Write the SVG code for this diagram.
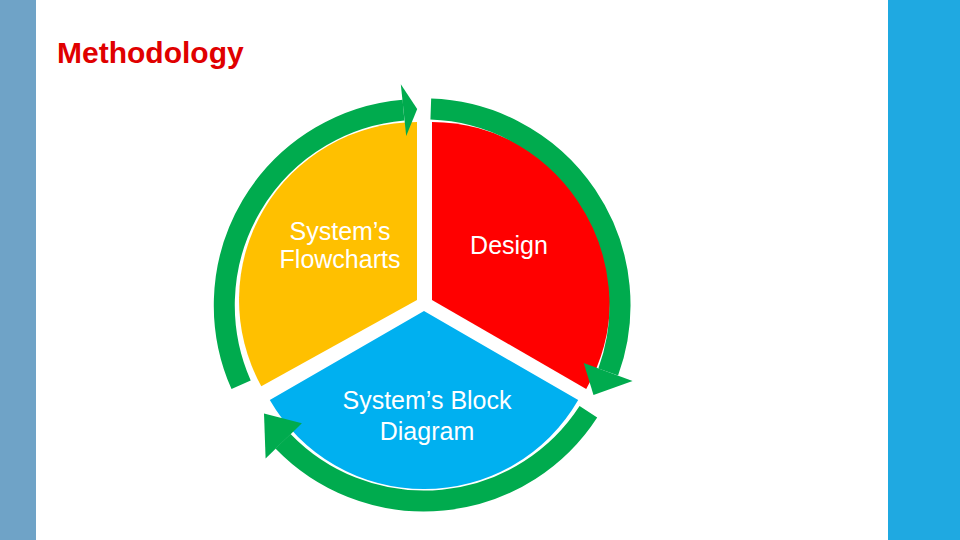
<svg xmlns="http://www.w3.org/2000/svg" width="960" height="540" viewBox="0 0 960 540">
<style>
.lbl{font-family:"Liberation Sans",Arial,sans-serif;font-size:25px;fill:#fff;text-anchor:middle}
.ring{fill:none;stroke:#00ab4e;stroke-width:21}
.head{fill:#00ab4e}
</style>
<rect width="960" height="540" fill="#fff"/>
<rect x="0" y="0" width="36" height="540" fill="#6fa3c7"/>
<rect x="888" y="0" width="72" height="540" fill="#1fa9e1"/>
<text x="57" y="63" font-family="Liberation Sans,Arial,sans-serif" font-weight="bold" font-size="30" fill="#e00000">Methodology</text>
<g id="flowcharts">
<path d="M417,300 L417,122 A178,178 0 0 0 261.3,386.2 Z" fill="#ffc000"/>
<text class="lbl" x="340" y="240">System’s</text>
<text class="lbl" x="340" y="268">Flowcharts</text>
</g>
<g id="design">
<path d="M432,300 L432,122 A178,178 0 0 1 586.2,389 Z" fill="#ff0000"/>
<text class="lbl" x="509" y="254">Design</text>
</g>
<g id="block">
<path d="M424,311 L578.2,400 A178,178 0 0 1 269.8,400 Z" fill="#00b0f0"/>
<text class="lbl" x="427" y="409">System’s Block</text>
<text class="lbl" x="427" y="440">Diagram</text>
</g>
<g id="connectors">
<path class="ring" d="M241.1,384.8 A196,196 0 0 1 403.5,110.1"/>
<polygon class="head" points="406.2,135.9 400.8,84.2 417.2,109.1"/>
<path class="ring" d="M430.8,109.1 A196,196 0 0 1 608.2,372"/>
<polygon class="head" points="583.7,363.1 632.6,380.9 593.5,395.1"/>
<path class="ring" d="M588.4,411.7 A196,196 0 0 1 283,441.2"/>
<polygon class="head" points="301.9,423.2 265.6,458.4 264.0,413.5"/>
</g>
</svg>
